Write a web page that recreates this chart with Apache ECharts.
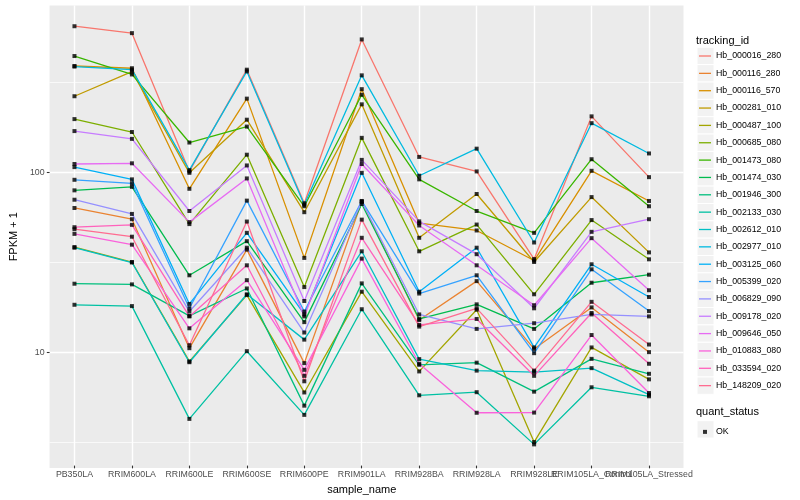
<!DOCTYPE html>
<html><head><meta charset="utf-8">
<script src="https://cdn.jsdelivr.net/npm/echarts@6/dist/echarts.min.js"></script>
<style>html,body{margin:0;padding:0;background:#fff}#c{width:800px;height:500px}</style>
</head><body><div id="c"></div>
<script>
// ---- data ----
const categories = ['PB350LA','RRIM600LA','RRIM600LE','RRIM600SE','RRIM600PE','RRIM901LA','RRIM928BA','RRIM928LA','RRIM928LE','RRIM105LA_Control','RRIM105LA_Stressed'];
const trackingIds = ['Hb_000016_280','Hb_000116_280','Hb_000116_570','Hb_000281_010','Hb_000487_100','Hb_000685_080','Hb_001473_080','Hb_001474_030','Hb_001946_300','Hb_002133_030','Hb_002612_010','Hb_002977_010','Hb_003125_060','Hb_005399_020','Hb_006829_090','Hb_009178_020','Hb_009646_050','Hb_010883_080','Hb_033594_020','Hb_148209_020'];
const hueColors = ['#F8766D','#EA8331','#D89000','#C09B00','#A3A500','#7CAE00','#39B600','#00BB4E','#00BF7D','#00C1A3','#00BFC4','#00BAE0','#00B0F6','#35A2FF','#9590FF','#C77CFF','#E76BF3','#FA62DB','#FF62BC','#FF6C91'];
const yTickLabels = ['10', '100'];

const hb_000016_280 = [647, 592, 100, 370, 66.4, 546, 120.5, 100, 32.4, 203, 92.9];
const hb_000116_280 = [62.5, 54.1, 10.3, 36.6, 8.5, 67.5, 14.8, 24.4, 10.2, 17.4, 9.79];
const hb_000116_570 = [388, 377, 80.0, 255, 32.9, 288, 51.4, 46.8, 31.8, 100.8, 68.4];
const hb_000281_010 = [263, 361, 98.2, 194.5, 59.2, 237, 42.6, 74.8, 31.2, 71.9, 35.3];
const hb_000487_100 = [37.8, 31.2, 8.69, 20.4, 5.83, 21.3, 7.64, 16.9, 3.08, 10.4, 6.90];
const hb_000685_080 = [196, 166, 50.8, 124, 22.6, 154, 35.8, 50.5, 20.6, 53.5, 32.3];
const hb_001473_080 = [441, 348, 145, 178, 63.9, 268, 90.3, 60.1, 45.4, 117, 63.9];
const hb_001474_030 = [78.4, 82.0, 26.3, 40.8, 14.4, 65.8, 15.0, 18.1, 13.2, 23.9, 26.5];
const hb_001946_300 = [23.6, 23.4, 15.6, 22.2, 4.92, 23.7, 8.32, 8.55, 5.89, 8.98, 7.41];
const hb_002133_030 = [18.0, 17.7, 4.15, 9.91, 4.37, 17.0, 5.62, 5.85, 2.99, 6.23, 5.55];
const hb_002612_010 = [37.5, 31.0, 8.6, 20.6, 11.5, 35.8, 8.95, 7.72, 7.58, 7.97, 5.67];
const hb_002977_010 = [385, 370, 101.7, 362, 65.2, 344, 94.6, 134, 40.1, 186, 126];
const hb_003125_060 = [105.7, 90.3, 18.2, 45.4, 15.9, 98.2, 21.3, 37.5, 10.4, 30.3, 19.9];
const hb_005399_020 = [89.8, 85.8, 17.2, 68.7, 16.5, 68.4, 20.8, 26.3, 9.66, 28.4, 16.6];
const hb_006829_090 = [69.5, 57.9, 16.5, 37.5, 12.6, 68.0, 15.9, 13.2, 14.2, 15.9, 15.5];
const hb_009178_020 = [168, 152, 60.1, 108, 18.9, 116, 52.6, 34.5, 17.2, 46.0, 54.1];
const hb_009646_050 = [110, 111, 52.1, 91.4, 15.5, 110, 49.9, 29.9, 17.9, 42.4, 21.7];
const hb_010883_080 = [44.8, 39.0, 13.3, 24.7, 7.80, 32.6, 8.43, 4.49, 4.50, 12.2, 5.79];
const hb_033594_020 = [48.8, 50.3, 15.5, 29.9, 7.22, 42.6, 13.9, 15.0, 7.22, 16.2, 8.43];
const hb_148209_020 = [47.6, 43.2, 10.7, 52.5, 6.73, 53.8, 13.6, 17.2, 7.72, 18.7, 10.8];

const seriesValues = [hb_000016_280, hb_000116_280, hb_000116_570, hb_000281_010, hb_000487_100, hb_000685_080, hb_001473_080, hb_001474_030, hb_001946_300, hb_002133_030, hb_002612_010, hb_002977_010, hb_003125_060, hb_005399_020, hb_006829_090, hb_009178_020, hb_009646_050, hb_010883_080, hb_033594_020, hb_148209_020];

// ---- layout ----
const FONT = 'Liberation Sans, Arial, sans-serif';
const PANEL = {left: 40, right: 683.5, top: 5.5, bottom: 468};
const EXPAND = 0.6;
const band = (PANEL.right - PANEL.left) / (categories.length - 1 + 2 * EXPAND);
const YMIN = 2.276, YMAX = 844.6;
const KEY = {x: 697, top: 47.3, h: 17.35, w: 17};

const chart = echarts.init(document.getElementById('c'), null, {renderer: 'canvas'});

const lineSeries = trackingIds.map((id, i) => ({
  name: id, type: 'line', xAxisIndex: 0, yAxisIndex: 2,
  data: seriesValues[i], symbol: 'none', silent: true,
  lineStyle: {color: hueColors[i], width: 1.3}, itemStyle: {color: hueColors[i]},
  z: 2, animation: false
}));
const points = [];
seriesValues.forEach(arr => arr.forEach((v, j) => points.push([j, v])));
const pointSeries = {
  name: 'OK', type: 'scatter', xAxisIndex: 0, yAxisIndex: 2, data: points,
  symbol: 'rect', symbolSize: 4, itemStyle: {color: '#000'}, silent: true, z: 5, animation: false
};

const keyRects = [];
trackingIds.forEach((id, i) => keyRects.push({type: 'rect', shape: {x: KEY.x, y: KEY.top + i * KEY.h, width: KEY.w, height: KEY.h}, style: {fill: '#F2F2F2', stroke: '#fff', lineWidth: 1}, z: 0}));
keyRects.push({type: 'rect', shape: {x: KEY.x, y: 420.7, width: KEY.w, height: KEY.h}, style: {fill: '#F2F2F2', stroke: '#fff', lineWidth: 1}, z: 0});

const labelFor = v => {
  const s = String(Math.round(v));
  return (Math.abs(Math.log10(v) - Math.round(Math.log10(v))) < 1e-6 && yTickLabels.indexOf(s) >= 0) ? s : '';
};

chart.setOption({
  animation: false,
  backgroundColor: '#fff',
  textStyle: {fontFamily: FONT},
  grid: [
    {left: PANEL.left, right: 800 - PANEL.right, top: PANEL.top, bottom: 500 - PANEL.bottom, show: true, backgroundColor: '#EBEBEB', borderWidth: 0, containLabel: false},
    {left: PANEL.left + EXPAND * band, right: 800 - (PANEL.right - EXPAND * band), top: PANEL.top, bottom: 500 - PANEL.bottom, containLabel: false}
  ],
  xAxis: [
    {gridIndex: 1, type: 'category', data: categories, boundaryGap: false,
     axisLine: {show: false},
     axisTick: {show: true, length: 2.75, interval: 0, lineStyle: {color: '#333333', width: 1.07}},
     axisLabel: {interval: 0, color: '#4D4D4D', fontSize: 8.8, margin: 4.5, fontFamily: FONT, hideOverlap: false},
     splitLine: {show: true, interval: 0, lineStyle: {color: '#FFFFFF', width: 1.4}},
     name: 'sample_name', nameLocation: 'middle', nameGap: 14.5,
     nameTextStyle: {color: '#000', fontSize: 11, fontFamily: FONT}},
    {gridIndex: 0, type: 'value', show: false}
  ],
  yAxis: [
    {gridIndex: 0, type: 'log', logBase: 10, min: YMIN, max: YMAX,
     axisLine: {show: false},
     axisTick: {show: true, length: 2.75, lineStyle: {color: '#333333', width: 1.07}},
     axisLabel: {show: true, showMinLabel: false, showMaxLabel: false, color: '#4D4D4D', fontSize: 8.8, margin: 5, fontFamily: FONT,
                 formatter: labelFor},
     splitLine: {show: true, showMinLine: false, showMaxLine: false, lineStyle: {color: '#FFFFFF', width: 1.4}},
     name: 'FPKM + 1', nameLocation: 'middle', nameGap: 22,
     nameTextStyle: {color: '#000', fontSize: 11, fontFamily: FONT}},
    {gridIndex: 0, type: 'log', logBase: 10, min: YMIN * Math.sqrt(10), max: YMAX * Math.sqrt(10),
     axisLine: {show: false}, axisTick: {show: false}, axisLabel: {show: false},
     splitLine: {show: true, showMinLine: false, showMaxLine: false, lineStyle: {color: '#FFFFFF', width: 0.7}}},
    {gridIndex: 1, type: 'log', logBase: 10, min: YMIN, max: YMAX, show: false, splitLine: {show: false}}
  ],
  legend: [
    {data: trackingIds, orient: 'vertical', left: 699, top: 55.35 - 6.35, itemWidth: 12, itemHeight: 1.3, icon: 'rect',
     itemGap: KEY.h - 14, selectedMode: false, padding: 0,
     textStyle: {fontSize: 8.8, color: '#000', fontFamily: FONT, lineHeight: 14}},
    {data: ['OK'], orient: 'vertical', left: 703, top: 420.7 + KEY.h / 2 - 2, itemWidth: 4, itemHeight: 4,
     selectedMode: false, padding: 0, icon: 'rect',
     textStyle: {fontSize: 8.8, color: '#000', fontFamily: FONT, padding: [0, 0, 0, 4]}}
  ],
  graphic: [
    ...keyRects,
    {type: 'text', style: {x: 696, y: 40.6, text: 'tracking_id', font: '11px ' + FONT, fill: '#000', verticalAlign: 'middle'}},
    {type: 'text', style: {x: 696, y: 412, text: 'quant_status', font: '11px ' + FONT, fill: '#000', verticalAlign: 'middle'}}
  ],
  series: [...lineSeries, pointSeries]
});
</script></body></html>
